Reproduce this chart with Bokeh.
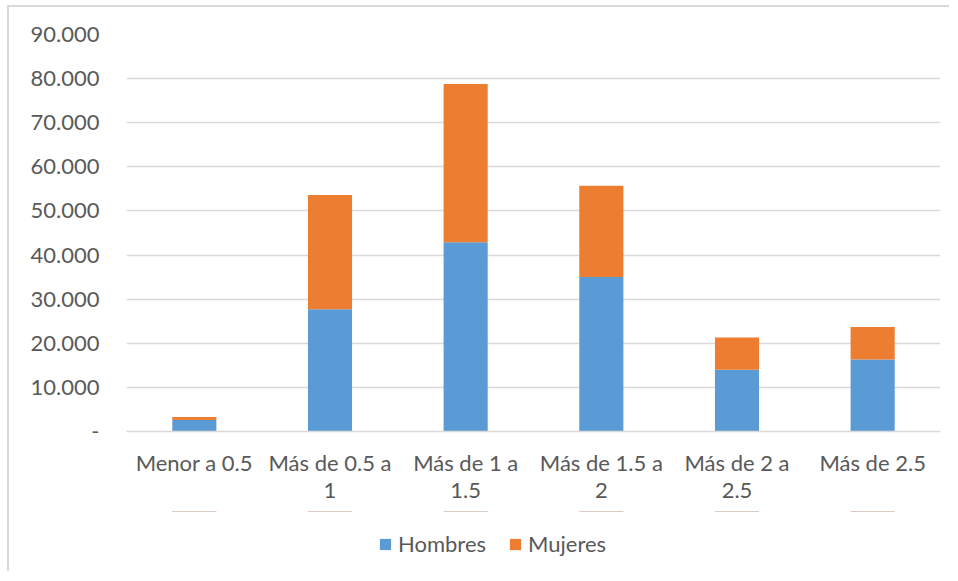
from bokeh.plotting import figure
from bokeh.layouts import column
from bokeh.models import Range1d, FactorRange, FixedTicker, Legend, LegendItem
from bokeh.embed import file_html
from bokeh.resources import INLINE

categories = ["Menor a 0.5", "Más de 0.5 a\n1", "Más de 1 a\n1.5",
              "Más de 1.5 a\n2", "Más de 2 a\n2.5", "Más de 2.5"]
hombres = [2600, 27700, 42900, 35000, 14000, 16300]
mujeres = [700, 25900, 35900, 20700, 7300, 7400]
series = ["Hombres", "Mujeres"]
colors = ["#5B9BD5", "#ED7D31"]
y_ticks = [0, 10000, 20000, 30000, 40000, 50000, 60000, 70000, 80000, 90000]
y_tick_labels = ["-", "10.000", "20.000", "30.000", "40.000", "50.000",
                 "60.000", "70.000", "80.000", "90.000"]

FONT = "Lato"
TXT = "#595959"
GRID = "#D9D9D9"

data = {"cat": categories, "Hombres": hombres, "Mujeres": mujeres}

p = figure(width=940, height=504, output_backend="svg", toolbar_location=None,
           x_range=FactorRange(*categories), y_range=Range1d(0, 90000),
           min_border_left=117, min_border_right=9, min_border_top=27,
           min_border_bottom=80)
p.outline_line_color = None

p.vbar_stack(series, x="cat", width=0.325, color=colors, line_color=None, source=data)

p.ygrid.ticker = FixedTicker(ticks=y_ticks)
p.ygrid.grid_line_color = GRID
p.ygrid.grid_line_width = 1.5
p.xgrid.grid_line_color = None

p.yaxis.ticker = FixedTicker(ticks=y_ticks)
p.yaxis.major_label_overrides = {t: l for t, l in zip(y_ticks, y_tick_labels)}
p.yaxis.axis_line_color = None
p.yaxis.major_tick_line_color = None
p.yaxis.minor_tick_line_color = None
p.yaxis.major_label_standoff = 21
p.yaxis.major_label_text_font = FONT
p.yaxis.major_label_text_font_size = "22px"
p.yaxis.major_label_text_color = TXT

p.xaxis.axis_line_color = GRID
p.xaxis.axis_line_width = 1.5
p.xaxis.major_tick_line_color = None
p.xaxis.minor_tick_line_color = None
p.xaxis.major_label_standoff = 11
p.xaxis.major_label_text_font = FONT
p.xaxis.major_label_text_font_size = "22px"
p.xaxis.major_label_text_color = TXT
p.xaxis.major_label_text_line_height = 1.03

# legend strip below the chart (same series; its bars lie outside its view)
pl = figure(width=940, height=60, output_backend="svg", toolbar_location=None,
            x_range=p.x_range, y_range=Range1d(-200000, -100000),
            x_axis_type=None, y_axis_type=None, min_border=0)
pl.outline_line_color = None
pl.grid.visible = False
legend_renderers = pl.vbar_stack(series, x="cat", width=0.325, color=colors,
                                 line_color=None, source=data)

legend = Legend(items=[LegendItem(label=s, renderers=[r]) for s, r in zip(series, legend_renderers)],
                orientation="horizontal", location=(252, 14),
                padding=0, margin=0, spacing=22, label_standoff=6,
                glyph_width=14, glyph_height=14,
                border_line_color=None, background_fill_alpha=0,
                label_text_font=FONT, label_text_font_size="22px",
                label_text_color=TXT)
pl.add_layout(legend, "center")

layout = column(p, pl, spacing=0)
layout.styles = {"margin-left": "7px", "margin-top": "5px",
                 "border-left": "2px solid #D9D9D9", "border-top": "2px solid #D9D9D9"}

open("out.html", "w").write(file_html(layout, INLINE))
